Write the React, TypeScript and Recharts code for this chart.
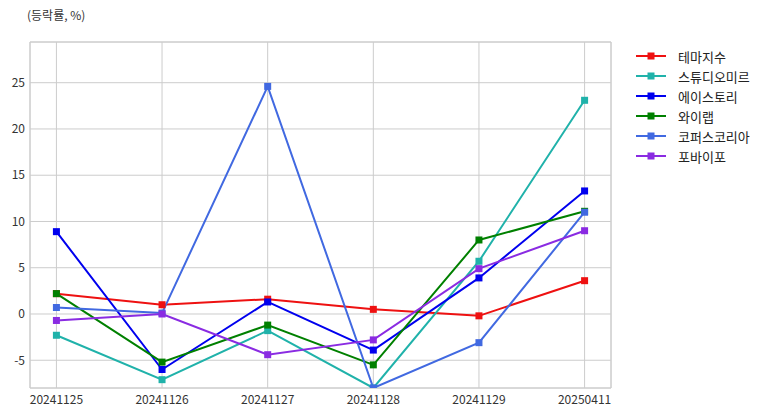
import React from 'react';
import { LineChart, Line, XAxis, YAxis, CartesianGrid, ReferenceArea } from 'recharts';

const categories = ['20241125', '20241126', '20241127', '20241128', '20241129', '20250411'];
const themeIndex = [2.2, 1.0, 1.6, 0.5, -0.2, 3.6];
const studioMir = [-2.3, -7.1, -1.8, -8.0, 5.7, 23.1];
const acestory = [8.9, -6.0, 1.3, -3.9, 3.9, 13.3];
const ylab = [2.2, -5.2, -1.2, -5.5, 8.0, 11.1];
const corpusKorea = [0.7, 0.1, 24.6, -8.0, -3.1, 11.0];
const fobyfo = [-0.7, 0.0, -4.4, -2.8, 4.9, 9.0];
const yTicks = [-5, 0, 5, 10, 15, 20, 25];

const seriesDefs = [
  { key: '테마지수', values: themeIndex, color: '#ee1111' },
  { key: '스튜디오미르', values: studioMir, color: '#20b2aa' },
  { key: '에이스토리', values: acestory, color: '#0000ee' },
  { key: '와이랩', values: ylab, color: '#008000' },
  { key: '코퍼스코리아', values: corpusKorea, color: '#4169e1' },
  { key: '포바이포', values: fobyfo, color: '#8a2be2' },
];

const data = categories.map((c, i) => {
  const row: any = { idx: i, cat: c };
  seriesDefs.forEach((s) => { row[s.key] = s.values[i]; });
  return row;
});

const FONT = '"Noto Sans CJK KR", "Noto Sans", sans-serif';

const SquareDot = (color: string) => (props: any) => {
  const { cx, cy, index } = props;
  if (cx == null || cy == null) return <g key={index} />;
  return <rect key={index} x={cx - 3.5} y={cy - 3.5} width={7} height={7} fill={color} />;
};

const LegendContent = () => (
  <div style={{ fontFamily: FONT, fontSize: 13, color: '#222' }}>
    {seriesDefs.map((s) => (
      <div key={s.key} style={{ display: 'flex', alignItems: 'center', height: 20 }}>
        <svg width={30} height={10} style={{ marginRight: 12 }}>
          <line x1={0} y1={5} x2={30} y2={5} stroke={s.color} strokeWidth={2} />
          <rect x={11.5} y={1.5} width={7} height={7} fill={s.color} />
        </svg>
        <span>{s.key}</span>
      </div>
    ))}
  </div>
);

export default function App() {
  return (
    <div style={{ position: 'absolute', left: 0, top: 0, width: 775, height: 416, background: '#fff' }}>
      <div style={{ position: 'absolute', left: 27, top: 6, fontFamily: FONT, fontSize: 12, color: '#333' }}>
        (등락률, %)
      </div>
      <LineChart width={775} height={416} data={data} margin={{ top: 42, right: 164, bottom: 0, left: 0 }}>
        <CartesianGrid stroke="#cccccc" strokeWidth={1} />
        <XAxis
          dataKey="idx"
          type="number"
          domain={[-0.25, 5.25]}
          ticks={[0, 1, 2, 3, 4, 5]}
          tickFormatter={(v: number) => categories[v]}
          height={28}
          tickSize={0}
          tickMargin={7}
          axisLine={false}
          tickLine={false}
          allowDataOverflow
          tick={{ fontFamily: FONT, fontSize: 12, fill: '#333' }}
        />
        <YAxis
          type="number"
          domain={[-8, 29.4]}
          ticks={yTicks}
          width={30}
          tickSize={0}
          tickMargin={5}
          axisLine={false}
          tickLine={false}
          allowDataOverflow
          tick={{ fontFamily: FONT, fontSize: 12, fill: '#333' }}
        />
        <ReferenceArea x1={-0.25} x2={5.25} y1={-8} y2={29.4} fill="none" stroke="#cccccc" strokeWidth={1} ifOverflow="visible" />
        {seriesDefs.map((s) => (
          <Line
            key={s.key}
            dataKey={s.key}
            stroke={s.color}
            strokeWidth={2}
            dot={SquareDot(s.color)}
            activeDot={false}
            isAnimationActive={false}
          />
        ))}
      </LineChart>
      <div style={{ position: 'absolute', left: 636, top: 46 }}>
        <LegendContent />
      </div>
    </div>
  );
}
